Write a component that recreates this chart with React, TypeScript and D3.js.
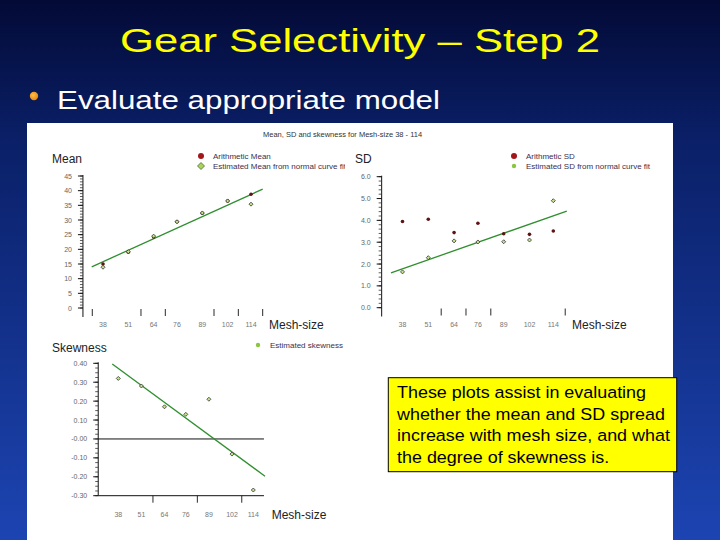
import * as d3 from 'd3';

// mesh sizes (mm) on the x axis of every panel
const meshSizes = [38, 51, 64, 76, 89, 102, 114];

// mean length per mesh size
const arithmeticMean = [15.0, 19.0, 24.2, 29.4, 32.3, 36.5, 38.8];
const estimatedMean = [13.9, 19.2, 24.5, 29.4, 32.4, 36.5, 35.4];

// standard deviation per mesh size
const arithmeticSD = [3.95, 4.05, 3.44, 3.87, 3.39, 3.36, 3.51];
const estimatedSD = [1.64, 2.29, 3.06, 3.01, 3.02, 3.1, 4.9];

// skewness per mesh size
const estimatedSkewness = [0.32, 0.28, 0.17, 0.13, 0.21, -0.08, -0.27];

// axis ticks
const meanYTicks = [0, 5, 10, 15, 20, 25, 30, 35, 40, 45];
const sdYTicks = [0, 1, 2, 3, 4, 5, 6];
const skewYTicks = [-0.3, -0.2, -0.1, 0, 0.1, 0.2, 0.3, 0.4];
const skewYLabels = ['-0.30', '-0.20', '-0.10', '-0.00', '0.10', '0.20', '0.30', '0.40'];
const meanXTicks = [32.5, 57.5, 70, 95, 107.5, 120];
const sdXTicks = [57.5, 70, 82.5, 120];
const skewXTicks = [57.5, 82.5, 107.5];

const boxLines = [
  'These plots assist in evaluating',
  'whether the mean and SD spread',
  'increase with mesh size, and what',
  'the degree of skewness is.',
];

const FONT = '"Liberation Sans", Arial, Helvetica, sans-serif';
const GREEN = '#2f8f2f';

// least squares line through the estimated values
function fitLine(xs: number[], ys: number[]) {
  const mx = d3.mean(xs) as number;
  const my = d3.mean(ys) as number;
  const sxy = d3.sum(xs, (x, i) => (x - mx) * (ys[i] - my));
  const sxx = d3.sum(xs, (x) => (x - mx) * (x - mx));
  const b = sxy / sxx;
  return (x: number) => my + b * (x - mx);
}

function diamond(cx: number, cy: number, r: number) {
  return `M${cx},${cy - r}L${cx + r},${cy}L${cx},${cy + r}L${cx - r},${cy}Z`;
}

type PanelProps = {
  x: d3.ScaleLinear<number, number>;
  y: d3.ScaleLinear<number, number>;
  yTicks: number[];
  yLabels: string[];
  minorStep: number;
  axisAt: number;
  xTicks: number[];
  xTickTop: number;
  xLabelY: number;
  fitRange: [number, number];
  estimated: number[];
  arithmetic?: number[];
  title: string;
  titlePos: [number, number];
  meshLabelPos: [number, number];
  xAxisLine?: boolean;
  zeroLine?: boolean;
};

function Panel(p: PanelProps) {
  const axisX = p.x(p.axisAt);
  const fit = fitLine(meshSizes, p.estimated);
  const minor = d3.range(p.y.domain()[0], p.y.domain()[1] + 1e-9, p.minorStep);
  const line = d3
    .line<number>()
    .x((d) => p.x(d))
    .y((d) => p.y(fit(d)));
  const yTop = p.y(p.y.domain()[1]);
  const yBottom = p.xAxisLine ? p.y(p.y.domain()[0]) : p.xTickTop + 8;
  return (
    <g fontFamily={FONT}>
      <text x={p.titlePos[0]} y={p.titlePos[1]} fontSize={12} fill="#222">
        {p.title}
      </text>
      <text x={p.meshLabelPos[0]} y={p.meshLabelPos[1]} fontSize={12} fill="#222">
        Mesh-size
      </text>
      {/* y axis */}
      <line x1={axisX} x2={axisX} y1={yTop - 1} y2={yBottom} stroke="#111" strokeWidth={1} />
      {minor.map((v, i) => (
        <line key={'m' + i} x1={axisX - 3} x2={axisX} y1={p.y(v)} y2={p.y(v)} stroke="#333" strokeWidth={0.8} />
      ))}
      {p.yTicks.map((v, i) => (
        <g key={'t' + i}>
          <line x1={axisX - 5} x2={axisX} y1={p.y(v)} y2={p.y(v)} stroke="#111" strokeWidth={1} />
          <text x={axisX - 11} y={p.y(v) + 2.5} fontSize={7} fill="#666" textAnchor="end">
            {p.yLabels[i]}
          </text>
        </g>
      ))}
      {/* x axis */}
      {p.xAxisLine && (
        <line x1={axisX} x2={p.x(120)} y1={p.y(p.y.domain()[0])} y2={p.y(p.y.domain()[0])} stroke="#111" />
      )}
      {p.zeroLine && <line x1={axisX} x2={p.x(120)} y1={p.y(0)} y2={p.y(0)} stroke="#111" />}
      {p.xTicks.map((v, i) => (
        <line key={'x' + i} x1={p.x(v)} x2={p.x(v)} y1={p.xTickTop} y2={p.xTickTop + 7} stroke="#111" strokeWidth={0.9} />
      ))}
      {meshSizes.map((m, i) => (
        <text key={'l' + i} x={p.x(m)} y={p.xLabelY} fontSize={7} fill="#777" textAnchor="middle">
          {m}
        </text>
      ))}
      {/* fitted line */}
      <path d={line(p.fitRange) ?? ''} stroke={GREEN} strokeWidth={1.3} fill="none" />
      {/* points */}
      {p.arithmetic?.map((v, i) => (
        <circle key={'a' + i} cx={p.x(meshSizes[i])} cy={p.y(v)} r={1.8} fill="#5e1414" />
      ))}
      {p.estimated.map((v, i) => (
        <path key={'e' + i} d={diamond(p.x(meshSizes[i]), p.y(v), 2)} fill="#c3e28a" stroke="#333" strokeWidth={0.8} />
      ))}
    </g>
  );
}

function Legend({ x, y, items, clipRight }: { x: number; y: number; items: { label: string; kind: string }[]; clipRight?: number }) {
  const id = `clip-${x}-${y}`;
  return (
    <g fontFamily={FONT}>
      {clipRight && (
        <clipPath id={id}>
          <rect x={x} y={y - 10} width={clipRight - x} height={30} />
        </clipPath>
      )}
      {items.map((it, i) => (
        <g key={i}>
          {it.kind === 'red' && <circle cx={x} cy={y + i * 10} r={3} fill="#a3161a" />}
          {it.kind === 'diamond' && <path d={diamond(x, y + i * 10, 3.5)} fill="#a8d45c" stroke="#3a5a1a" strokeWidth={0.7} />}
          {it.kind === 'green' && <circle cx={x} cy={y + i * 10} r={2.2} fill="#8cc63f" />}
          <text x={x + 12} y={y + i * 10 + 2.8} fontSize={8} fill="#3a3050" clipPath={clipRight ? `url(#${id})` : undefined}>
            {it.label}
          </text>
        </g>
      ))}
    </g>
  );
}

export default function App() {
  const meanX = d3.scaleLinear().domain([38, 114]).range([103, 251]);
  const meanY = d3.scaleLinear().domain([0, 45]).range([308, 176]);
  const sdX = d3.scaleLinear().domain([38, 114]).range([402.5, 553.3]);
  const sdY = d3.scaleLinear().domain([0, 6]).range([307.7, 176.7]);
  const skX = d3.scaleLinear().domain([38, 114]).range([118.3, 253.3]);
  const skY = d3.scaleLinear().domain([-0.3, 0.4]).range([495.7, 363.3]);

  return (
    <svg width={720} height={540} style={{ position: 'absolute', left: 0, top: 0, display: 'block' }}>
      <defs>
        <linearGradient id="bg" x1="0" y1="0" x2="0" y2="1">
          <stop offset="0" stopColor="#030a36" />
          <stop offset="0.25" stopColor="#0a1f66" />
          <stop offset="1" stopColor="#1c44b2" />
        </linearGradient>
        <radialGradient id="bullet" cx="0.4" cy="0.4" r="0.6">
          <stop offset="0" stopColor="#ffc04a" />
          <stop offset="1" stopColor="#e8890f" />
        </radialGradient>
      </defs>
      <rect x={0} y={0} width={720} height={540} fill="url(#bg)" />

      <text x={360} y={52.3} fontFamily={FONT} fontSize={34} fill="#ffff00" textAnchor="middle" textLength={480} lengthAdjust="spacingAndGlyphs">
        Gear Selectivity – Step 2
      </text>
      <circle cx={34} cy={96} r={4.2} fill="url(#bullet)" />
      <text x={57} y={109.3} fontFamily={FONT} fontSize={25.6} fill="#ffffff" textLength={383} lengthAdjust="spacingAndGlyphs">
        Evaluate appropriate model
      </text>

      <rect x={27} y={123} width={646} height={417} fill="#ffffff" />
      <text x={263} y={136.5} fontFamily={FONT} fontSize={7.5} fill="#333">
        Mean, SD and skewness for Mesh-size 38 - 114
      </text>

      <Panel
        x={meanX}
        y={meanY}
        yTicks={meanYTicks}
        yLabels={meanYTicks.map(String)}
        minorStep={1}
        axisAt={27.7}
        xTicks={meanXTicks}
        xTickTop={309}
        xLabelY={326.5}
        fitRange={[32.2, 120]}
        estimated={estimatedMean}
        arithmetic={arithmeticMean}
        title="Mean"
        titlePos={[52, 163.3]}
        meshLabelPos={[269, 328.5]}
      />
      <Legend
        x={201}
        y={156}
        clipRight={345}
        items={[
          { label: 'Arithmetic Mean', kind: 'red' },
          { label: 'Estimated Mean from normal curve fit', kind: 'diamond' },
        ]}
      />

      <Panel
        x={sdX}
        y={sdY}
        yTicks={sdYTicks}
        yLabels={sdYTicks.map((d) => d.toFixed(1))}
        minorStep={0.2}
        axisAt={27.5}
        xTicks={sdXTicks}
        xTickTop={308.5}
        xLabelY={326.5}
        fitRange={[32.2, 120.8]}
        estimated={estimatedSD}
        arithmetic={arithmeticSD}
        title="SD"
        titlePos={[355, 163.3]}
        meshLabelPos={[572, 328.5]}
      />
      <Legend
        x={514}
        y={156}
        items={[
          { label: 'Arithmetic SD', kind: 'red' },
          { label: 'Estimated SD from normal curve fit', kind: 'green' },
        ]}
      />

      <Panel
        x={skX}
        y={skY}
        yTicks={skewYTicks}
        yLabels={skewYLabels}
        minorStep={0.025}
        axisAt={26.7}
        xTicks={skewXTicks}
        xTickTop={495.7}
        xLabelY={516.5}
        fitRange={[34.6, 120.6]}
        estimated={estimatedSkewness}
        title="Skewness"
        titlePos={[52, 352]}
        meshLabelPos={[271.7, 518.5]}
        xAxisLine
        zeroLine
      />
      <Legend x={258} y={345} items={[{ label: 'Estimated skewness', kind: 'green' }]} />

      <rect x={388.3} y={377.7} width={288.4} height={94} fill="#ffff00" stroke="#000" strokeWidth={1} />
      <g transform="translate(397,0) scale(1.1,1)" fontFamily={FONT} fontSize={16.3} fill="#000">
        {boxLines.map((l, i) => (
          <text key={i} x={0} y={398.3 + i * 21.6}>
            {l}
          </text>
        ))}
      </g>
    </svg>
  );
}
